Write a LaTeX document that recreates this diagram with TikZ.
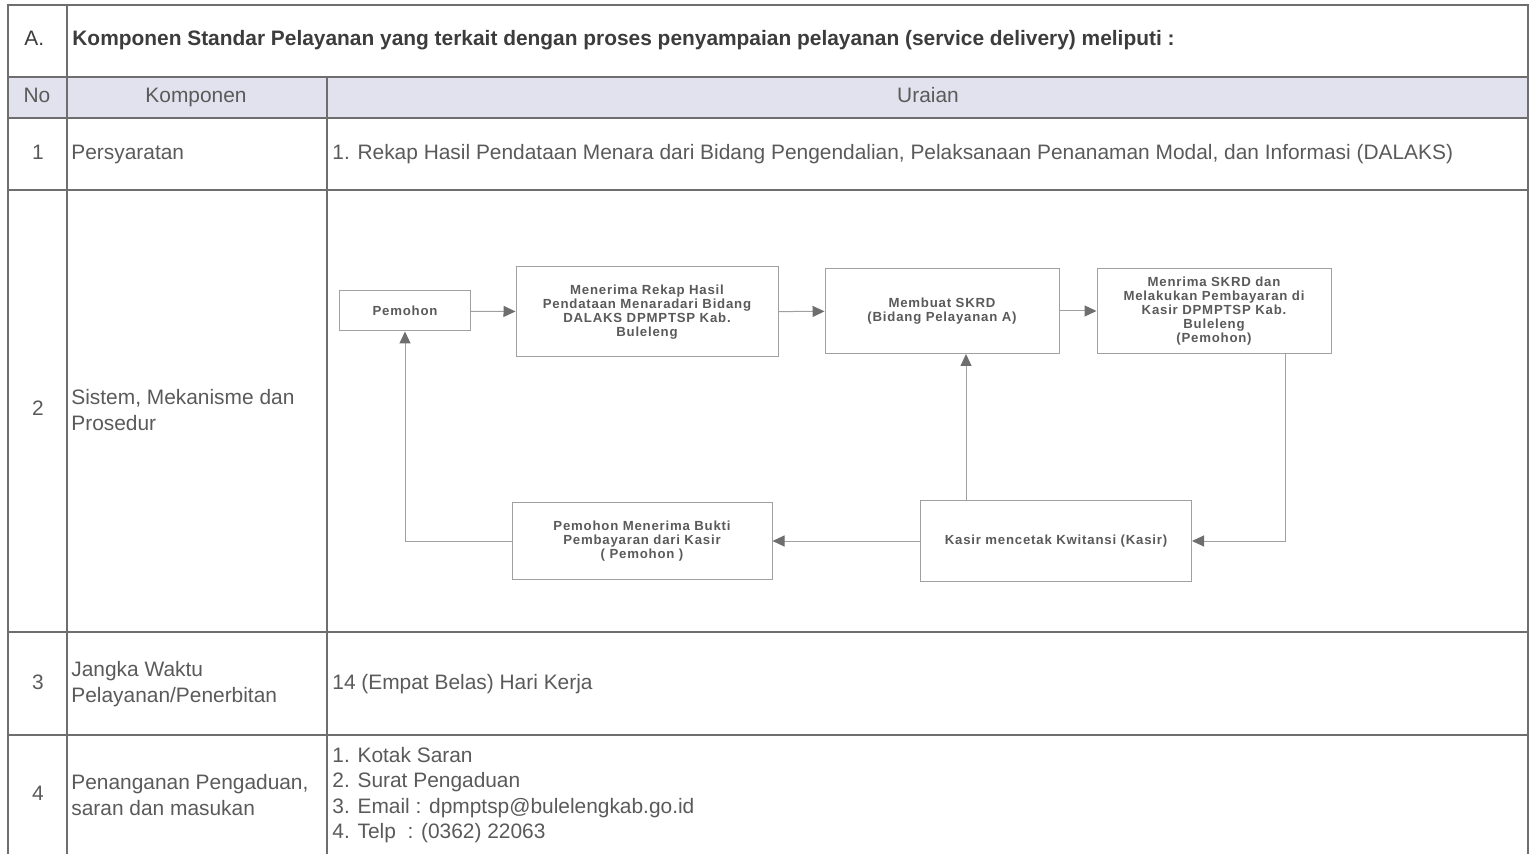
\documentclass[tikz,border=0pt]{standalone}
\usepackage{fontspec}
\setmainfont{Liberation Sans}
\usetikzlibrary{arrows.meta}
\definecolor{inkgray}{HTML}{5A5A5A}
\definecolor{headink}{HTML}{3C3C3C}
\definecolor{gridgray}{HTML}{6E6E6E}
\definecolor{boxgray}{HTML}{A0A0A0}
\definecolor{headfill}{HTML}{E2E2EE}
\begin{document}
\begin{tikzpicture}[x=0.5pt,y=-0.5pt]
      \tikzset{cellline/.style={draw=gridgray, line width=0.7pt},
               thickline/.style={draw=gridgray, line width=1.3pt},
               celltext/.style={anchor=west, inner sep=0pt, text=inkgray, font=\fontsize{10.45}{12.6}\selectfont, align=left},
               onetext/.style={celltext, text height=7.5pt, text depth=2.2pt},
               numtext/.style={inner sep=0pt, text=inkgray, text height=7.5pt, text depth=2.2pt, font=\fontsize{10.45}{12.6}\selectfont},
               flowbox/.style={draw=boxgray, line width=0.5pt, fill=white, align=center, text=inkgray, inner sep=1pt,
                               font=\fontsize{6.6}{6.9}\selectfont\bfseries\addfontfeatures{LetterSpace=6}},
               flowarrow/.style={draw=boxgray, line width=0.5pt, -{Triangle[length=6pt,width=5.5pt,color=gridgray,fill=gridgray]}}}
      \useasboundingbox (0,0) rectangle (1534,854);
%% Table
      \fill[headfill] (8,77) rectangle (1528,118);
      \foreach \y in {190,632,735}
        \draw[cellline] (8,\y) -- (1528,\y);
      \draw[thickline] (8,77) -- (1528,77);
      \draw[thickline] (8,118) -- (1528,118);
      \draw[cellline] (67,5) -- (67,854);
      \draw[cellline] (327,77) -- (327,854);
      \draw[thickline] (8,854) -- (8,5) -- (1528,5) -- (1528,854);
%% Headings
      \node[onetext, text=headink] (secA) at (24,40) {A.};
      \node[onetext, text=headink, font=\fontsize{10.45}{12.6}\selectfont\bfseries] (judul) at (72,40)
        {Komponen Standar Pelayanan yang terkait dengan proses penyampaian pelayanan (service delivery) meliputi :};
      \node[numtext] (hno) at (37,97) {No};
      \node[numtext] (hkomp) at (196,97) {Komponen};
      \node[numtext] (hurai) at (928,97) {Uraian};
%% Rows
      \node[numtext] (n1) at (38,154) {1};
      \node[numtext] (n2) at (38,410) {2};
      \node[numtext] (n3) at (38,684) {3};
      \node[numtext] (n4) at (38,795) {4};
      \node[onetext] (k1) at (71,154) {Persyaratan};
      \node[celltext] (k2) at (71,410) {Sistem, Mekanisme dan\\Prosedur};
      \node[celltext] (k3) at (71,684) {Jangka Waktu\\Pelayanan/Penerbitan};
      \node[celltext] (k4) at (71,795) {Penanganan Pengaduan,\\saran dan masukan};
      \node[onetext] (u1) at (332,154)
        {1. Rekap Hasil Pendataan Menara dari Bidang Pengendalian, Pelaksanaan Penanaman Modal, dan Informasi (DALAKS)};
      \node[onetext] (u3) at (332,684) {14 (Empat Belas) Hari Kerja};
      \node[celltext] (u4) at (332,795) {1. Kotak Saran\\2. Surat Pengaduan\\3. Email : dpmptsp@bulelengkab.go.id\\4. Telp \ : (0362) 22063};
%% Flowchart
      \node[flowbox, minimum width=65.5pt, minimum height=20pt] (pemohon) at (405,311) {Pemohon};
      \node[flowbox, minimum width=131pt, minimum height=45pt] (rekap) at (647,312)
        {Menerima Rekap Hasil\\Pendataan Menaradari Bidang\\DALAKS DPMPTSP Kab.\\Buleleng};
      \node[flowbox, minimum width=117pt, minimum height=42.5pt] (skrd) at (942,311)
        {Membuat SKRD\\(Bidang Pelayanan A)};
      \node[flowbox, minimum width=117pt, minimum height=42.5pt] (bayar) at (1214,311)
        {Menrima SKRD dan\\Melakukan Pembayaran di\\Kasir DPMPTSP Kab.\\Buleleng\\(Pemohon)};
      \node[flowbox, minimum width=130pt, minimum height=38pt] (bukti) at (642,541)
        {Pemohon Menerima Bukti\\Pembayaran dari Kasir\\( Pemohon )};
      \node[flowbox, minimum width=135.5pt, minimum height=40pt] (kasir) at (1056,541)
        {Kasir mencetak Kwitansi (Kasir)};
%% Arrows
      \draw[flowarrow] (pemohon) -- (rekap);
      \draw[flowarrow] (rekap) -- (skrd);
      \draw[flowarrow] (skrd) -- (bayar);
      \draw[flowarrow] ([xshift=35.5pt]bayar.south) |- (kasir.east);
      \draw[flowarrow] ([xshift=-45pt]kasir.north) -- ([xshift=-45pt]kasir.north |- skrd.south);
      \draw[flowarrow] (kasir) -- (bukti);
      \draw[flowarrow] (bukti.west) -| (pemohon.south);
\end{tikzpicture}
\end{document}
